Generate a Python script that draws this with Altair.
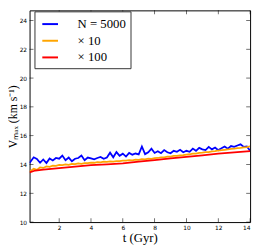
import altair as alt
import pandas as pd

# ---- data ----
t_vals = [0.14, 0.4, 0.6, 0.8, 1.0, 1.2, 1.4, 1.6, 1.8, 2.0,
          2.2, 2.4, 2.6, 2.8, 3.0, 3.2, 3.4, 3.6, 3.8, 4.0,
          4.2, 4.4, 4.6, 4.8, 5.0, 5.2, 5.4, 5.6, 5.8, 6.0,
          6.2, 6.4, 6.6, 6.8, 7.0, 7.2, 7.4, 7.6, 7.8, 8.0,
          8.2, 8.4, 8.6, 8.8, 9.0, 9.2, 9.4, 9.6, 9.8, 10.0,
          10.2, 10.4, 10.6, 10.8, 11.0, 11.2, 11.4, 11.6, 11.8, 12.0,
          12.2, 12.4, 12.6, 12.8, 13.0, 13.2, 13.4, 13.6, 13.8, 14.0]

v_5000 = [14.10, 14.50, 14.38, 14.12, 14.35, 14.10, 14.42, 14.28, 14.45, 14.40,
          14.62, 14.30, 14.48, 14.22, 14.40, 14.45, 14.62, 14.30, 14.48, 14.42,
          14.36, 14.45, 14.52, 14.40, 14.48, 14.82, 14.50, 14.86, 14.60, 14.75,
          14.55, 14.80, 14.68, 14.76, 14.70, 15.25, 14.72, 14.85, 15.10, 14.80,
          14.92, 14.78, 15.00, 14.85, 14.78, 14.95, 14.88, 15.02, 14.85, 14.95,
          14.88, 15.10, 14.95, 15.15, 15.05, 15.00, 15.22, 15.05, 15.18, 15.00,
          15.12, 15.25, 15.10, 15.28, 15.22, 15.32, 15.40, 15.22, 15.25, 14.95]

v_x10 = [13.50, 13.70, 13.62, 13.80, 13.76, 13.86, 13.84, 13.92, 13.90, 13.97,
         13.95, 14.00, 13.98, 14.04, 14.02, 14.07, 14.05, 14.10, 14.09, 14.13,
         14.12, 14.16, 14.14, 14.19, 14.18, 14.21, 14.20, 14.24, 14.23, 14.26,
         14.27, 14.30, 14.29, 14.33, 14.32, 14.37, 14.35, 14.40, 14.39, 14.44,
         14.45, 14.49, 14.50, 14.54, 14.55, 14.59, 14.60, 14.64, 14.65, 14.69,
         14.71, 14.75, 14.76, 14.80, 14.82, 14.85, 14.86, 14.91, 14.93, 14.97,
         14.99, 15.02, 15.04, 15.08, 15.10, 15.13, 15.15, 15.19, 15.21, 15.25]

t_x100 = [0.14, 0.5, 1.0, 2.0, 3.0, 4.0, 5.0, 6.0, 7.0, 8.0, 9.0, 10.0, 11.0, 12.0, 13.0, 14.0]
v_x100 = [13.45, 13.58, 13.64, 13.74, 13.85, 13.95, 14.01, 14.08, 14.19, 14.31,
          14.42, 14.53, 14.64, 14.76, 14.84, 14.92]

series_names = ["N = 5000", "\u00d7 10", "\u00d7 100"]
series_colors = ["#0000ff", "#ffa500", "#ff0000"]

x_ticks = [2, 4, 6, 8, 10, 12, 14]
y_ticks = [10, 12, 14, 16, 18, 20, 22, 24]

# ---- build tables ----
df = pd.concat([
    pd.DataFrame({"t": t_vals, "v": v_5000, "series": series_names[0], "o": 0}),
    pd.DataFrame({"t": t_vals, "v": v_x10, "series": series_names[1], "o": 1}),
    pd.DataFrame({"t": t_x100, "v": v_x100, "series": series_names[2], "o": 2}),
], ignore_index=True)

xt = pd.DataFrame({"t": x_ticks})
yt = pd.DataFrame({"v": y_ticks})

W, H = 225, 216
xscale = alt.Scale(domain=[0.14, 14], nice=False)
yscale = alt.Scale(domain=[10, 24.7], nice=False)

x_axis = alt.Axis(values=x_ticks, title="t (Gyr)", ticks=False, grid=False,
                  domain=False, labelFont="DejaVu Sans", labelFontSize=6,
                  labelColor="black", labelPadding=3, labelOverlap=False,
                  titleFont="Liberation Serif", titleFontSize=13,
                  titleFontWeight="normal", titleColor="black",
                  titleBaseline="alphabetic", titleY=20)
y_axis = alt.Axis(values=y_ticks, title="V\u2098\u2090\u2093 (km s\u207b\u00b9)",
                  ticks=False, grid=False, domain=False, labelOverlap=False,
                  labelFont="DejaVu Sans", labelFontSize=6, labelColor="black",
                  labelPadding=3, titleFont="Liberation Serif", titleFontSize=12,
                  titleFontWeight="normal", titleColor="black",
                  titleBaseline="alphabetic", titleX=-13)

lines = alt.Chart(df).mark_line(strokeWidth=1.8, clip=True).encode(
    x=alt.X("t:Q", scale=xscale, axis=x_axis),
    y=alt.Y("v:Q", scale=yscale, axis=y_axis),
    color=alt.Color("series:N",
                    scale=alt.Scale(domain=series_names, range=series_colors),
                    legend=alt.Legend(orient="none", legendX=5, legendY=1, title=None,
                                      symbolType="stroke", symbolSize=256,
                                      symbolStrokeWidth=2, symbolOffset=3,
                                      labelFont="Liberation Serif",
                                      labelFontSize=13, labelColor="black",
                                      labelOffset=19, rowPadding=1, padding=4,
                                      strokeColor="#333333", fillColor="white",
                                      cornerRadius=0, labelLimit=0)),
    order="o:Q",
)

tick_style = dict(size=4, thickness=0.8, color="black")
xt_bottom = alt.Chart(xt).mark_tick(orient="vertical", **tick_style).encode(
    x=alt.X("t:Q", scale=xscale, axis=x_axis), y=alt.value(H - 2))
xt_top = alt.Chart(xt).mark_tick(orient="vertical", **tick_style).encode(
    x=alt.X("t:Q", scale=xscale, axis=x_axis), y=alt.value(2))
yt_left = alt.Chart(yt).mark_tick(orient="horizontal", **tick_style).encode(
    y=alt.Y("v:Q", scale=yscale, axis=y_axis), x=alt.value(2))
yt_right = alt.Chart(yt).mark_tick(orient="horizontal", **tick_style).encode(
    y=alt.Y("v:Q", scale=yscale, axis=y_axis), x=alt.value(W - 2))

chart = alt.layer(lines, xt_bottom, xt_top, yt_left, yt_right).properties(
    width=W, height=H,
    autosize=alt.AutoSizeParams(type="none"),
    padding={"left": 22, "top": 0, "right": 5, "bottom": 23},
).configure_view(stroke="black", strokeWidth=1)

chart.save("out.html", embed_options={"renderer": "svg", "actions": False})
